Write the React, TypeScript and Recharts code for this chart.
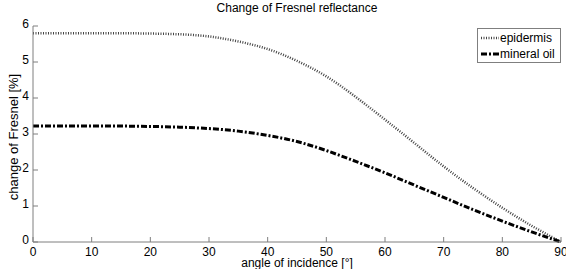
import React from 'react';
import { LineChart, Line, XAxis, YAxis, Legend } from 'recharts';

const angles = [0, 5, 10, 15, 20, 25, 30, 35, 40, 45, 50, 55, 60, 65, 70, 75, 80, 85, 90];
const epidermis = [5.8, 5.8, 5.8, 5.8, 5.79, 5.77, 5.71, 5.57, 5.36, 5.03, 4.6, 4.03, 3.4, 2.75, 2.1, 1.5, 0.95, 0.45, 0.0];
const mineralOil = [3.22, 3.22, 3.22, 3.22, 3.21, 3.19, 3.15, 3.08, 2.96, 2.79, 2.54, 2.24, 1.92, 1.58, 1.24, 0.9, 0.58, 0.28, 0.0];
const xTicks = [0, 10, 20, 30, 40, 50, 60, 70, 80, 90];
const yTicks = [0, 1, 2, 3, 4, 5, 6];
const seriesNames = ['epidermis', 'mineral oil'];

const data = angles.map((a, i) => ({ angle: a, epidermis: epidermis[i], mineral: mineralOil[i] }));

const FONT = 'Liberation Sans, Arial, sans-serif';
const AXIS = '#7f7f7f';

const LegendBox = () => (
  <div
    style={{
      position: 'absolute',
      left: 477,
      top: 28,
      width: 84,
      height: 35,
      border: '1px solid #7f7f7f',
      background: '#fff',
      boxSizing: 'border-box',
    }}
  >
    <svg width={84} height={35} style={{ position: 'absolute', left: -1, top: -1 }}>
      <line x1={4} x2={22} y1={10} y2={10} stroke="#444" strokeWidth={2.5} strokeDasharray="1 1.5" />
      <line x1={4} x2={22} y1={26} y2={26} stroke="#000" strokeWidth={3} strokeDasharray="6 2 2 2" />
      <text x={23} y={14} fontSize={12} fontFamily={FONT} fill="#000">{seriesNames[0]}</text>
      <text x={23} y={30} fontSize={12} fontFamily={FONT} fill="#000">{seriesNames[1]}</text>
    </svg>
  </div>
);

export default function App() {
  return (
    <div style={{ position: 'absolute', left: 0, top: 0, width: 566, height: 269, background: '#fff', overflow: 'hidden' }}>
      <div
        style={{
          position: 'absolute',
          left: 33,
          width: 528,
          top: 1,
          textAlign: 'center',
          fontFamily: FONT,
          fontSize: 12,
          color: '#000',
        }}
      >
        Change of Fresnel reflectance
      </div>
      <LineChart width={566} height={269} data={data} margin={{ top: 26, right: 5, bottom: 0, left: 0 }}>
        <XAxis
          dataKey="angle"
          type="number"
          domain={[0, 90]}
          ticks={xTicks}
          interval={0}
          stroke={AXIS}
          tickSize={-5}
          tickMargin={10}
          height={27}
          tick={{ fill: '#000', fontSize: 12, fontFamily: FONT }}
          label={{
            content: (p: any) => {
              const vb = p.viewBox;
              return (
                <text x={vb.x + vb.width / 2} y={vb.y + 25} textAnchor="middle" fontSize={12} fontFamily={FONT} fill="#000">
                  angle of incidence [°]
                </text>
              );
            },
          }}
        />
        <XAxis
          xAxisId="top"
          orientation="top"
          dataKey="angle"
          type="number"
          domain={[0, 90]}
          ticks={xTicks}
          interval={0}
          stroke={AXIS}
          tickSize={-5}
          height={0}
          tick={() => <g />}
        />
        <YAxis
          type="number"
          domain={[0, 6]}
          ticks={yTicks}
          interval={0}
          width={33}
          stroke={AXIS}
          tickSize={-5}
          tickMargin={9}
          tick={{ fill: '#000', fontSize: 12, fontFamily: FONT, dy: -2 }}
          label={{
            content: (p: any) => {
              const vb = p.viewBox;
              const cx = 13;
              const cy = vb.y + vb.height / 2 + 3;
              return (
                <text x={cx} y={cy} transform={`rotate(-90 ${cx} ${cy})`} textAnchor="middle" dominantBaseline="central" fontSize={13} fontFamily={FONT} fill="#000">
                  change of Fresnel [%]
                </text>
              );
            },
          }}
        />
        <YAxis
          yAxisId="right"
          orientation="right"
          type="number"
          domain={[0, 6]}
          ticks={yTicks}
          interval={0}
          width={0}
          stroke={AXIS}
          tickSize={-5}
          tick={() => <g />}
        />
        <Line
          dataKey="epidermis"
          name={seriesNames[0]}
          type="natural"
          stroke="#444"
          strokeWidth={2.5}
          strokeDasharray="1 1.5"
          dot={false}
          isAnimationActive={false}
        />
        <Line
          dataKey="mineral"
          name={seriesNames[1]}
          type="natural"
          stroke="#000"
          strokeWidth={3}
          strokeDasharray="6 2 2 2"
          dot={false}
          isAnimationActive={false}
        />
        <Legend content={() => null} />
      </LineChart>
      <LegendBox />
    </div>
  );
}
